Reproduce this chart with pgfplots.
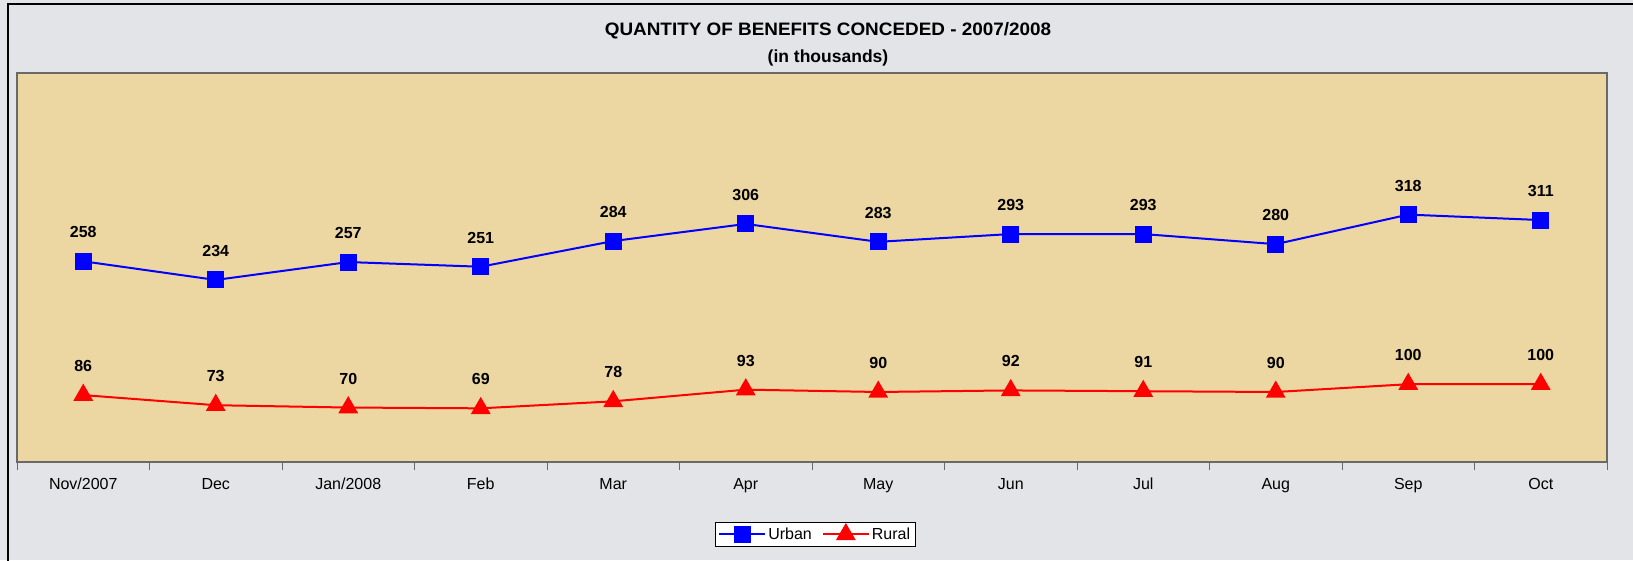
\documentclass[border=0pt]{standalone}
\usepackage{graphicx}
\usepackage{pgfplots}
\pgfplotsset{compat=1.18}
\usepackage{fontspec}
\setmainfont{Liberation Sans}
\definecolor{marble}{RGB}{226,228,231}
\definecolor{papyrus}{RGB}{236,214,162}
\definecolor{axgray}{RGB}{105,105,105}
\begin{document}
\begin{tikzpicture}[x=1pt,y=1pt]
\useasboundingbox (0,0) rectangle (1633,-560);
\fill[marble] (0,0) rectangle (1633,-560);
\draw[black,line width=1.5pt] (8,-562) -- (8,-4) -- (1635,-4);
\node[font=\fontsize{18}{21}\selectfont\bfseries] at (828,-31) {\scalebox{1.05}[1]{QUANTITY OF BENEFITS CONCEDED - 2007/2008}};
\node[font=\fontsize{17.5}{21}\selectfont\bfseries] at (828,-58) {(in thousands)};
\begin{axis}[
  at={(17pt,-462pt)}, anchor=south west,
  scale only axis, width=1590pt, height=389pt,
  xmin=-0.5, xmax=11.5, ymin=0, ymax=500,
  axis background/.style={fill=papyrus},
  axis line style={axgray, line width=1.2pt},
  ytick=\empty,
  xtick={0,...,11},
  xticklabels={Nov/2007,Dec,Jan/2008,Feb,Mar,Apr,May,Jun,Jul,Aug,Sep,Oct},
  major tick length=0pt,
  major x tick style={draw=none},
  minor xtick={-0.5,0.5,1.5,2.5,3.5,4.5,5.5,6.5,7.5,8.5,9.5,10.5,11.5},
  minor tick length=8pt, tick align=outside, xtick pos=bottom,
  minor x tick style={axgray, line width=1pt},
  xticklabel style={font=\fontsize{16}{19}\selectfont, anchor=north, text height=12pt, text depth=4pt, yshift=-12pt},
  /pgf/number format/assume math mode=true,
  nodes near coords,
  every node near coord/.append style={font=\fontsize{16}{19}\selectfont\bfseries, text=black, anchor=center, yshift=29pt},
  legend style={at={(axis description cs:0.502,-0.185)}, anchor=center, draw=black, fill=white,
    font=\fontsize{16}{19}\selectfont, inner sep=3pt, line width=0.8pt,
    /tikz/every even column/.append style={column sep=8pt}},
  legend columns=2,
  legend image code/.code={\draw[mark repeat=2,mark phase=2] plot coordinates {(0pt,0pt) (23pt,0pt) (46pt,0pt)};},
]
\addplot[blue, line width=2pt, mark=square*, mark size=7.5pt, mark options={solid}] coordinates {
(0,258) (1,234) (2,257) (3,251) (4,284) (5,306) (6,283) (7,293) (8,293) (9,280) (10,318) (11,311)};
\addlegendentry{Urban}
\addplot[red, line width=2pt, mark=triangle*, mark size=9.5pt, mark options={solid}] coordinates {
(0,86) (1,73) (2,70) (3,69) (4,78) (5,93) (6,90) (7,92) (8,91) (9,90) (10,100) (11,100)};
\addlegendentry{Rural}
\end{axis}
\end{tikzpicture}
\end{document}
